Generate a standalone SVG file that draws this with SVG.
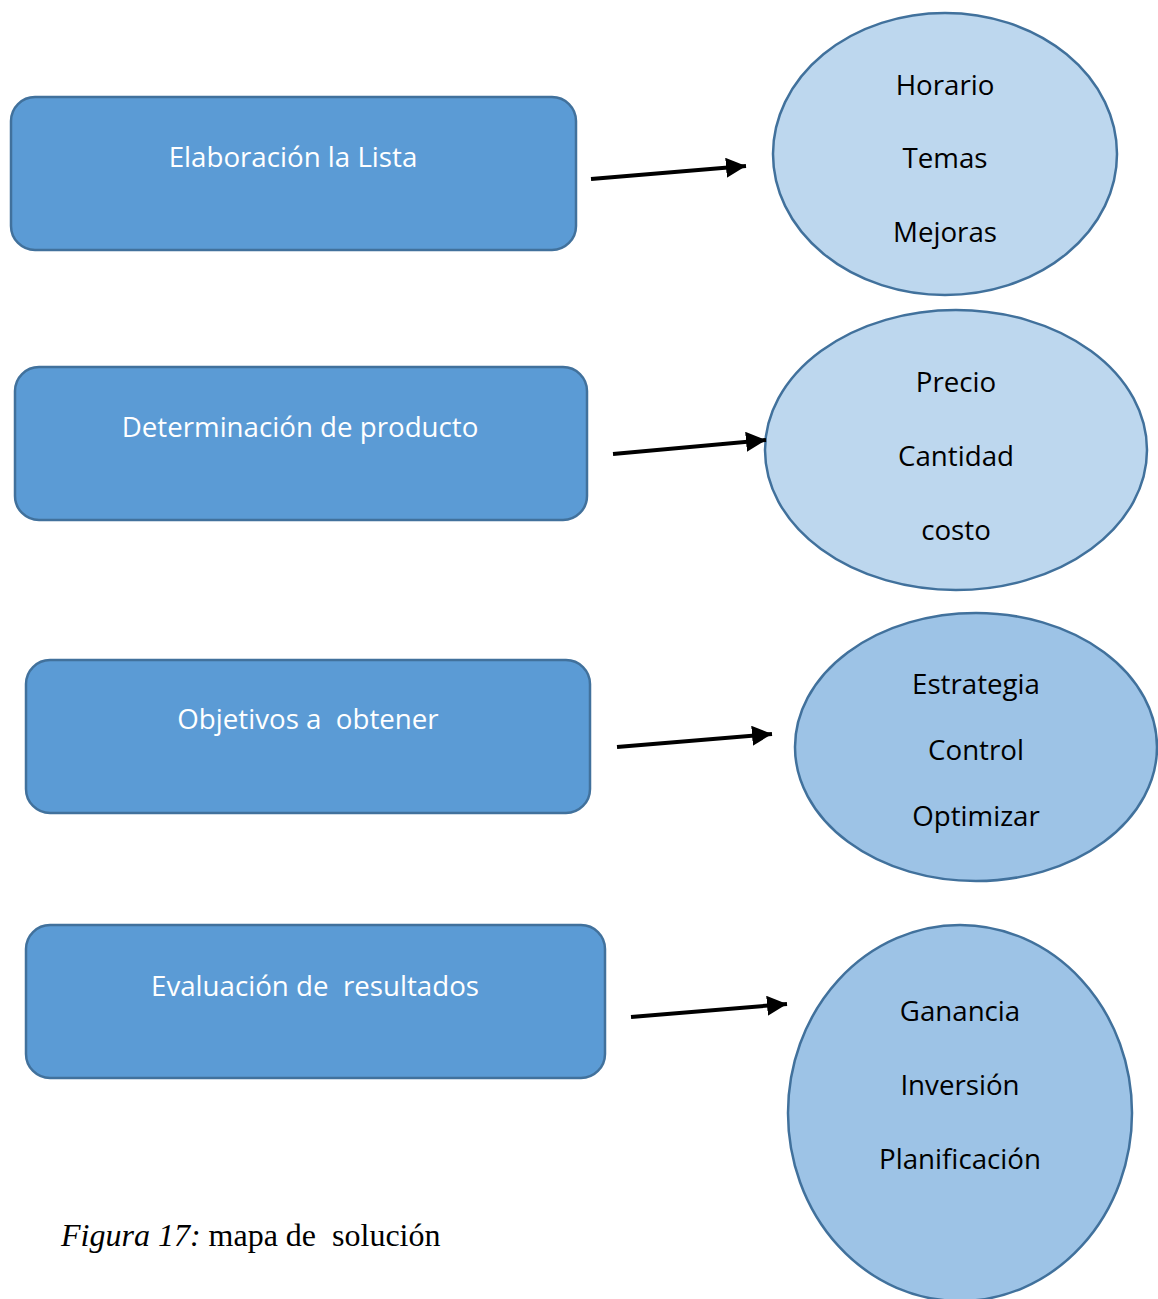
<svg xmlns="http://www.w3.org/2000/svg" width="1158" height="1299" viewBox="0 0 1158 1299">
<style>
.box{fill:#5B9BD5;stroke:#41719C;stroke-width:2.5}
.ell1{fill:#BDD7EE;stroke:#41719C;stroke-width:2.5}
.ell2{fill:#9DC3E6;stroke:#41719C;stroke-width:2.5}
.bt{font-family:"Open Sans",Lato,"Liberation Sans",sans-serif;font-size:27.7px;fill:#FFFFFF;text-anchor:middle}
.et{font-family:"Open Sans",Lato,"Liberation Sans",sans-serif;font-size:27.7px;fill:#000000;text-anchor:middle}
.conn{stroke:#000;stroke-width:4;fill:none;marker-end:url(#ah)}
.cap{font-family:"Liberation Serif",serif;font-size:32px;fill:#000}
</style>
<defs>
<marker id="ah" markerWidth="6" markerHeight="5" refX="5" refY="2.5" orient="auto" markerUnits="strokeWidth">
<path d="M0,0 L5,2.5 L0,5 Z" fill="#000"/>
</marker>
</defs>
<rect width="1158" height="1299" fill="#FFFFFF"/>
<g id="box1"><rect class="box" x="11" y="97" width="565" height="153" rx="24"/><text class="bt" x="293" y="167">Elaboración la Lista</text></g>
<g id="box2"><rect class="box" x="15" y="367" width="572" height="153" rx="24"/><text class="bt" x="300" y="437">Determinación de producto</text></g>
<g id="box3"><rect class="box" x="26" y="660" width="564" height="153" rx="24"/><text class="bt" x="308" y="729" xml:space="preserve">Objetivos a  obtener</text></g>
<g id="box4"><rect class="box" x="26" y="925" width="579" height="153" rx="24"/><text class="bt" x="315" y="996" xml:space="preserve">Evaluación de  resultados</text></g>
<g id="ell1"><ellipse class="ell1" cx="945" cy="154" rx="172" ry="141"/><text class="et" x="945" y="95">Horario</text><text class="et" x="945" y="168">Temas</text><text class="et" x="945" y="242">Mejoras</text></g>
<g id="ell2"><ellipse class="ell1" cx="956" cy="450" rx="191" ry="140"/><text class="et" x="956" y="392">Precio</text><text class="et" x="956" y="466">Cantidad</text><text class="et" x="956" y="540">costo</text></g>
<g id="ell3"><ellipse class="ell2" cx="976" cy="747" rx="181" ry="134"/><text class="et" x="976" y="694">Estrategia</text><text class="et" x="976" y="760">Control</text><text class="et" x="976" y="826">Optimizar</text></g>
<g id="ell4"><ellipse class="ell2" cx="960" cy="1113" rx="172" ry="188"/><text class="et" x="960" y="1021">Ganancia</text><text class="et" x="960" y="1095">Inversión</text><text class="et" x="960" y="1169">Planificación</text></g>
<g id="connectors">
<line class="conn" x1="591" y1="179" x2="746" y2="166"/>
<line class="conn" x1="613" y1="454" x2="766" y2="440"/>
<line class="conn" x1="617" y1="747" x2="772" y2="734"/>
<line class="conn" x1="631" y1="1017" x2="787" y2="1004"/>
</g>
<text class="cap" x="61" y="1246" xml:space="preserve"><tspan font-style="italic">Figura 17:</tspan> mapa de  solución</text>
</svg>
